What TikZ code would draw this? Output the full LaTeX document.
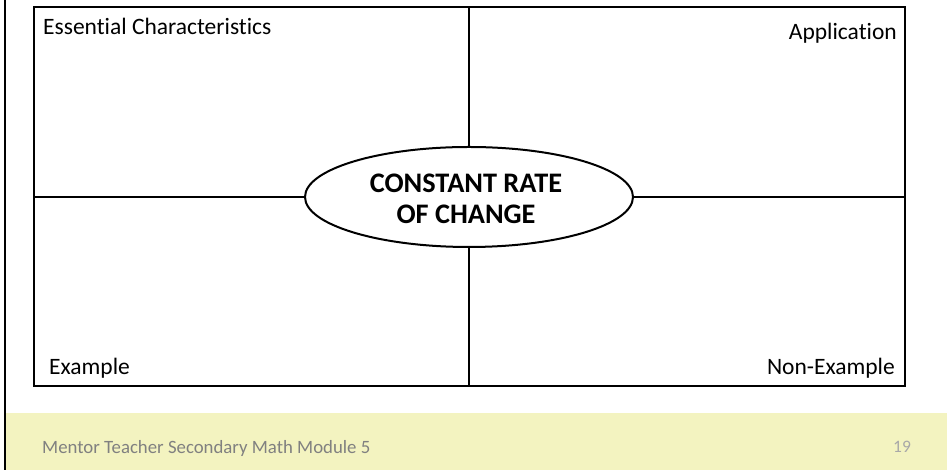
\documentclass[tikz,border=0pt]{standalone}
\usepackage{fontspec}
\setmainfont{Carlito}[Ligatures=NoCommon]
\usetikzlibrary{shapes.geometric}
\definecolor{footbg}{HTML}{F3F3C0}
\definecolor{foottxt}{HTML}{808080}
\definecolor{pagetxt}{HTML}{A8A8A8}
\tikzset{
  frameline/.style={line width=2pt, draw=black},
  label/.style={inner sep=0pt, font=\fontsize{23.5}{28}\selectfont},
}
\begin{document}
\begin{tikzpicture}[x=1pt,y=1pt]
\useasboundingbox (0,0) rectangle (947,470);
% footer band
\fill[footbg] (6,0) rectangle (947,57);
\node[inner sep=0pt, anchor=base west, text=foottxt, font=\fontsize{18.8}{22}\selectfont] (foot) at (42,16) {Mentor Teacher Secondary Math Module 5};
\node[inner sep=0pt, anchor=base, text=pagetxt, font=\fontsize{17.5}{20}\selectfont] (page) at (902,17.5) {19};
% left slide border
\draw[line width=2pt] (4.5,0) -- (4.5,470);
% frame
\node[frameline, rectangle, inner sep=0pt, minimum width=871pt, minimum height=379pt, anchor=south west] (frame) at (33,83) {};
% central ellipse
\node[frameline, ellipse, fill=white, inner sep=0pt, minimum width=328pt, minimum height=100pt] (center) at (469,273) {};
\node[inner sep=0pt, anchor=base, font=\fontsize{28.3}{32}\selectfont\bfseries] (t1) at (466,277.5) {CONSTANT RATE};
\node[inner sep=0pt, anchor=base, font=\fontsize{28.3}{32}\selectfont\bfseries] (t2) at (466,246) {OF CHANGE};
% dividers
\draw[frameline] (center.north) -- (center.north |- frame.north);
\draw[frameline] (center.south) -- (center.south |- frame.south);
\draw[frameline] (center.west) -- (center.west -| frame.west);
\draw[frameline] (center.east) -- (center.east -| frame.east);
% labels
\node[label, anchor=base west] (ess) at (43,435) {Essential Characteristics};
\node[label, anchor=base east] (app) at (897,430) {Application};
\node[label, anchor=base west] (ex) at (49,95) {Example};
\node[label, anchor=base east] (nonex) at (895,95) {Non-Example};
\end{tikzpicture}
\end{document}
